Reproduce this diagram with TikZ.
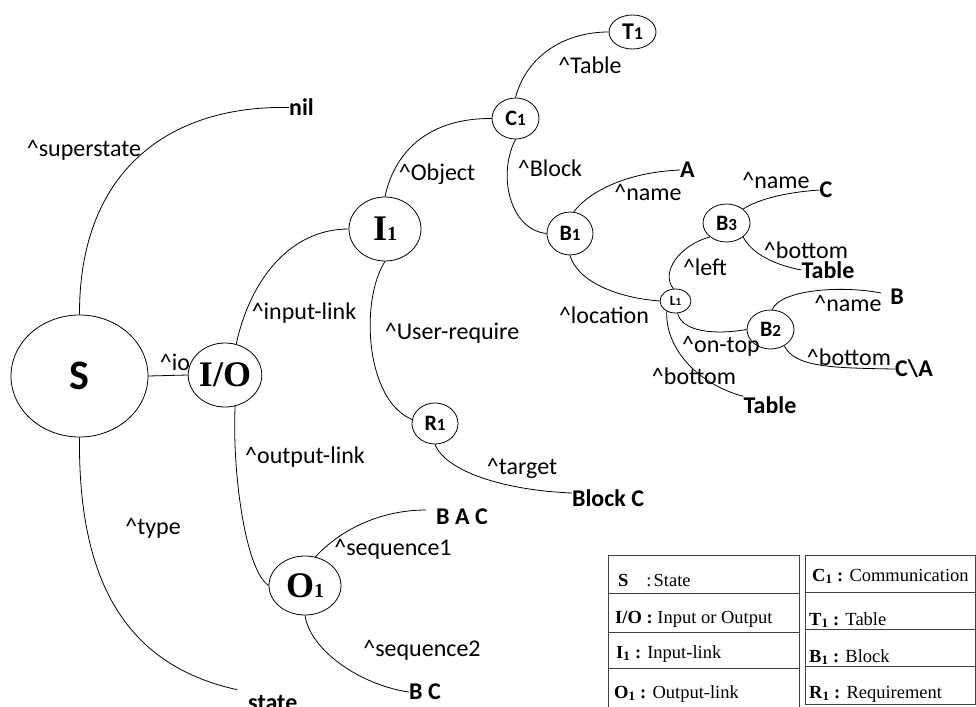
\documentclass[tikz,border=0pt]{standalone}
\usepackage{fontspec}
\setmainfont{Carlito}
\newfontfamily\serifA{Liberation Serif}
\usetikzlibrary{shapes.geometric}
\newcommand\lblf{\fontsize{24}{26}\selectfont}
\newcommand\termf{\fontsize{24}{26}\selectfont\bfseries}
\newcommand\tabf{\serifA\fontsize{18.5}{20}\selectfont}
\newcommand\hatc{\textasciicircum}
\newcommand\sansnode[3]{{\bfseries\fontsize{#3}{#3}\selectfont #1\fontsize{\numexpr#3*3/4\relax}{#3}\selectfont #2}}
\newcommand\sernode[2]{{\serifA\bfseries\fontsize{36}{36}\selectfont #1\fontsize{20}{20}\selectfont #2}}
\begin{document}
\begin{tikzpicture}[x=1pt,y=-1pt,
  lbl/.style={inner sep=0pt,font=\lblf},
  term/.style={inner sep=0pt,font=\termf},
  ell/.style={draw,ellipse,inner sep=0pt,line width=0.8pt},
  conn/.style={line width=0.8pt},
  tab/.style={inner sep=0pt,anchor=base west,font=\tabf},
  tline/.style={line width=0.9pt,draw=black!75}]
\useasboundingbox (0,0) rectangle (976,706);
\fill[white] (0,0) rectangle (976,706);
\begin{scope}
\clip (0,0) rectangle (976,706);
% ellipse nodes
\node[ell,minimum width=137pt,minimum height=122pt] (S) at (79.5,376) {\fontsize{42}{42}\selectfont\bfseries S};
\node[ell,minimum width=72pt,minimum height=64pt] (io) at (225,375) {{\serifA\bfseries\fontsize{36}{36}\selectfont I/O}};
\node[ell,minimum width=72pt,minimum height=64pt] (I1) at (385,229) {\sernode{I}{1}};
\node[ell,minimum width=72pt,minimum height=59pt] (O1) at (305,585.5) {\sernode{O}{1}};
\node[ell,minimum width=46pt,minimum height=41pt] (R1) at (435,423.5) {\sansnode{R}{1}{22}};
\node[ell,minimum width=47pt,minimum height=41pt] (C1) at (515.5,118.5) {\sansnode{C}{1}{22}};
\node[ell,minimum width=47pt,minimum height=34pt] (T1) at (632.5,32) {\sansnode{T}{1}{24}};
\node[ell,minimum width=46pt,minimum height=43pt] (B1) at (570,233.5) {\sansnode{B}{1}{22}};
\node[ell,minimum width=31pt,minimum height=24pt] (L1) at (675.5,301) {\sansnode{L}{1}{14}};
\node[ell,minimum width=47pt,minimum height=38pt] (B3) at (726.5,223) {\sansnode{B}{3}{22}};
\node[ell,minimum width=47pt,minimum height=39pt] (B2) at (770.5,329.5) {\sansnode{B}{2}{22}};
% terminal values
\node[term] (nil) at (301.5,107.5) {nil};
\node[term] (vA) at (687.5,170) {A};
\node[term] (vC) at (826,190) {C};
\node[term] (tab1) at (828,270) {Table};
\node[term] (vB) at (897,297) {B};
\node[term] (vCA) at (914,369) {C\textbackslash A};
\node[term] (tab2) at (770,405) {Table};
\node[term] (bc) at (608,498) {Block C};
\node[term] (bac) at (462,517) {B A C};
\node[term] (vbc) at (425,692) {B C};
\node[term,anchor=base west] (st) at (248,710) {state};
% attribute labels
\node[lbl] (lsup) at (84,150) {\hatc superstate};
\node[lbl] (lio) at (175,362) {\hatc io};
\node[lbl] (lin) at (304,313) {\hatc input-link};
\node[lbl] (lobj) at (437,174) {\hatc Object};
\node[lbl] (lusr) at (452,333) {\hatc User-require};
\node[lbl] (lout) at (305,457) {\hatc output-link};
\node[lbl] (ltype) at (153,528) {\hatc type};
\node[lbl] (ls1) at (393,549) {\hatc sequence1};
\node[lbl] (ls2) at (422,650) {\hatc sequence2};
\node[lbl] (ltar) at (522,468) {\hatc target};
\node[lbl] (ltab) at (590,65) {\hatc Table};
\node[lbl] (lblk) at (550,168) {\hatc Block};
\node[lbl] (lnm1) at (648,192) {\hatc name};
\node[lbl] (lloc) at (604,315) {\hatc location};
\node[lbl] (lleft) at (705,267) {\hatc left};
\node[lbl] (lnm3) at (776,180) {\hatc name};
\node[lbl] (lbot3) at (806,250) {\hatc bottom};
\node[lbl] (lon) at (721,346) {\hatc on-top};
\node[lbl] (lnm2) at (848,303) {\hatc name};
\node[lbl] (lbot2) at (849,357) {\hatc bottom};
\node[lbl] (lbotL) at (694,376) {\hatc bottom};
% connectors
\draw[conn] (S.north) .. controls (79,170) and (170,105) .. (nil.west);
\draw[conn] (S.east) -- (io.west);
\draw[conn] (S.south) .. controls (78,580) and (125,665) .. ([xshift=-11pt,yshift=5pt]st.north west);
\draw[conn] (io.70) .. controls (250,280) and (290,229) .. (I1.west);
\draw[conn] (io.-72) .. controls (232,470) and (245,570) .. (O1.west);
\draw[conn] (I1.north) .. controls (395,150) and (430,118) .. (C1.west);
\draw[conn] (I1.south) .. controls (360,300) and (365,400) .. (R1.170);
\draw[conn] (R1.south) .. controls (445,470) and (500,490) .. ([yshift=5pt]bc.west);
\draw[conn] (O1.70) .. controls (340,530) and (380,510) .. ([xshift=-10pt,yshift=7pt]bac.west);
\draw[conn] (O1.south) .. controls (310,650) and (360,685) .. (vbc.west);
\draw[conn] (C1.north) .. controls (525,60) and (560,32) .. (T1.west);
\draw[conn] (C1.south) .. controls (497,175) and (510,230) .. (B1.west);
\draw[conn] (B1.80) .. controls (590,190) and (630,172) .. (vA.west);
\draw[conn] (B1.south) .. controls (578,283) and (620,298) .. (L1.west);
\draw[conn] (L1.100) .. controls (660,272) and (680,245) .. (B3.220);
\draw[conn] (B3.40) .. controls (760,198) and (790,192) .. (vC.west);
\draw[conn] (B3.-40) .. controls (752,254) and (775,265) .. (tab1.west);
\draw[conn] (L1.-80) .. controls (682,332) and (715,335) .. (B2.west);
\draw[conn] (B2.85) .. controls (780,290) and (840,285) .. ([xshift=-9pt,yshift=4pt]vB.west);
\draw[conn] (B2.-50) .. controls (795,367) and (830,368) .. (vCA.west);
\draw[conn] (L1.-130) .. controls (665,350) and (700,385) .. (tab2.north west);
% legend table
\draw[tline] (608,716) -- (608,555) -- (799,555) -- (799,716);
\draw[tline] (608,593) -- (799,593);
\draw[tline] (608,632) -- (799,632);
\draw[tline] (608,668) -- (799,668);
\draw[tline] (805,555) rectangle (975,704);
\draw[tline] (805,592) -- (975,592);
\draw[tline] (805,629) -- (975,629);
\draw[tline] (805,666) -- (975,666);
\node[tab] (k1) at (618,586) {\textbf{S}\hspace{18pt}:\hspace{2pt}State};
\node[tab] (k2) at (615,623) {\textbf{I/O :} Input or Output};
\node[tab] (k3) at (616,658) {\textbf{I\textsubscript{1} :} Input-link};
\node[tab] (k4) at (614,698) {\textbf{O\textsubscript{1} :} Output-link};
\node[tab] (k5) at (812,581) {\textbf{C\textsubscript{1} :} Communication};
\node[tab] (k6) at (809,625) {\textbf{T\textsubscript{1} :} Table};
\node[tab] (k7) at (809,662) {\textbf{B\textsubscript{1} :} Block};
\node[tab] (k8) at (809,698) {\textbf{R\textsubscript{1} :} Requirement};
\end{scope}
\end{tikzpicture}
\end{document}
